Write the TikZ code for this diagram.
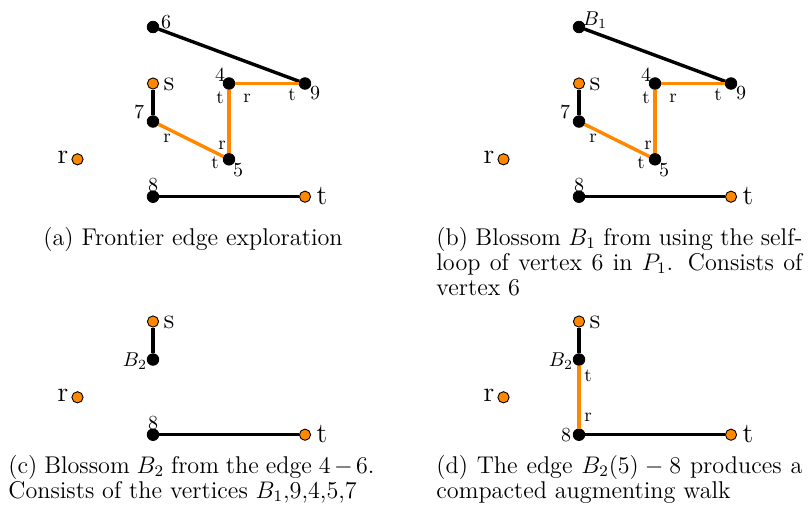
\documentclass[tikz,border=0pt]{standalone}
\usepackage{amsmath}
\definecolor{edgeorange}{RGB}{255,136,0}
\tikzset{
  bv/.style={circle,fill=black,draw=black,inner sep=0pt,minimum size=5.8pt},
  ov/.style={circle,fill=edgeorange,draw=black,line width=0.45pt,inner sep=0pt,minimum size=5.6pt},
  be/.style={line width=1.7pt,draw=black},
  oe/.style={line width=1.7pt,draw=edgeorange},
  vl/.style={font=\fontsize{10}{11}\selectfont,inner sep=0pt},
  tl/.style={font=\fontsize{14}{15}\selectfont,inner sep=0pt},
  el/.style={font=\fontsize{9.5}{11}\selectfont,inner sep=0pt},
  capt/.style={font=\fontsize{12.1}{12.5}\selectfont,inner sep=0pt,text width=183pt,align=justify,anchor=north west},
}
\begin{document}
\begin{tikzpicture}[x=0.5pt,y=-0.5pt]
\useasboundingbox (0,0) rectangle (808,515);
% ---------- (a)
\node[bv] (a6) at (153,27) {};
\node[ov] (as) at (153,83.5) {};
\node[bv] (a4) at (229,83.5) {};
\node[bv] (a9) at (305,83.5) {};
\node[bv] (a7) at (153,121.5) {};
\node[bv] (a5) at (229,159.3) {};
\node[ov] (ar) at (77.5,159.3) {};
\node[bv] (a8) at (153,196.7) {};
\node[ov] (at) at (305,196.7) {};
\draw[be] (a6) -- (a9);
\draw[be] (as) -- (a7);
\draw[be] (a8) -- (at);
\draw[oe] (a4) -- (a9);
\draw[oe] (a4) -- (a5);
\draw[oe] (a7) -- (a5);
\node[vl] (la6) at (166,22) {6};
\node[tl] (las) at (169,84) {s};
\node[vl] (la4) at (220,75) {4};
\node[vl] (la9) at (315,93) {9};
\node[vl] (la7) at (139,112) {7};
\node[vl] (la5) at (238,170) {5};
\node[tl] (lar) at (63,157.5) {r};
\node[vl] (la8) at (153,185) {8};
\node[tl] (lat) at (322,196) {t};
\node[el] (ea1) at (247,98) {r};
\node[el] (ea2) at (292,95) {t};
\node[el] (ea3) at (220,98) {t};
\node[el] (ea4) at (222,145) {r};
\node[el] (ea5) at (167,138) {r};
\node[el] (ea6) at (215,163) {t};
% ---------- (b)
\node[bv] (b6) at (579,27) {};
\node[ov] (bs) at (579,83.5) {};
\node[bv] (b4) at (655,83.5) {};
\node[bv] (b9) at (731,83.5) {};
\node[bv] (b7) at (579,121.5) {};
\node[bv] (b5) at (655,159.3) {};
\node[ov] (br) at (503.5,159.3) {};
\node[bv] (b8) at (579,196.7) {};
\node[ov] (bt) at (731,196.7) {};
\draw[be] (b6) -- (b9);
\draw[be] (bs) -- (b7);
\draw[be] (b8) -- (bt);
\draw[oe] (b4) -- (b9);
\draw[oe] (b4) -- (b5);
\draw[oe] (b7) -- (b5);
\node[vl] (lb6) at (595,20) {$B_1$};
\node[tl] (lbs) at (595,84) {s};
\node[vl] (lb4) at (646,75) {4};
\node[vl] (lb9) at (741,93) {9};
\node[vl] (lb7) at (565,112) {7};
\node[vl] (lb5) at (664,170) {5};
\node[tl] (lbr) at (489,157.5) {r};
\node[vl] (lb8) at (579,185) {8};
\node[tl] (lbt) at (748,196) {t};
\node[el] (eb1) at (673,98) {r};
\node[el] (eb2) at (718,95) {t};
\node[el] (eb3) at (646,98) {t};
\node[el] (eb4) at (648,145) {r};
\node[el] (eb5) at (593,138) {r};
\node[el] (eb6) at (641,163) {t};
% ---------- (c)
\node[ov] (cs) at (153,321.5) {};
\node[bv] (cb) at (153,359.5) {};
\node[ov] (cr) at (77.5,397.3) {};
\node[bv] (c8) at (153,434.7) {};
\node[ov] (ct) at (305,434.7) {};
\draw[be] (cs) -- (cb);
\draw[be] (c8) -- (ct);
\node[tl] (lcs) at (169,322) {s};
\node[vl] (lcb) at (135,361) {$B_2$};
\node[tl] (lcr) at (63,395.5) {r};
\node[vl] (lc8) at (153,423) {8};
\node[tl] (lct) at (322,434) {t};
% ---------- (d)
\node[ov] (ds) at (579,321.5) {};
\node[bv] (db) at (579,359.5) {};
\node[ov] (dr) at (503.5,397.3) {};
\node[bv] (d8) at (579,434.7) {};
\node[ov] (dt) at (731,434.7) {};
\draw[be] (ds) -- (db);
\draw[oe] (db) -- (d8);
\draw[be] (d8) -- (dt);
\node[tl] (lds) at (595,322) {s};
\node[vl] (ldb) at (561,361) {$B_2$};
\node[tl] (ldr) at (489,395.5) {r};
\node[vl] (ld8) at (566,435) {8};
\node[tl] (ldt) at (748,434) {t};
\node[el] (ed1) at (588,376) {t};
\node[el] (ed2) at (588,417) {r};
% ---------- captions
\node[font=\fontsize{12.1}{12.5}\selectfont,inner sep=0pt,anchor=base] (capa) at (193,245) {(a) Frontier edge exploration};
\node[capt] (capb) at (436,226.8) {(b) Blossom $B_1$ from using the self-\linebreak loop of vertex 6 in $P_1$. Consists of\linebreak vertex 6};
\node[capt] (capc) at (8,454.8) {(c) Blossom $B_2$ from the edge $4-6$.\linebreak Consists of the vertices $B_1$,9,4,5,7};
\node[capt] (capd) at (436,454.8) {(d) The edge $B_2(5)-8$ produces a\linebreak compacted augmenting walk};
\end{tikzpicture}
\end{document}
